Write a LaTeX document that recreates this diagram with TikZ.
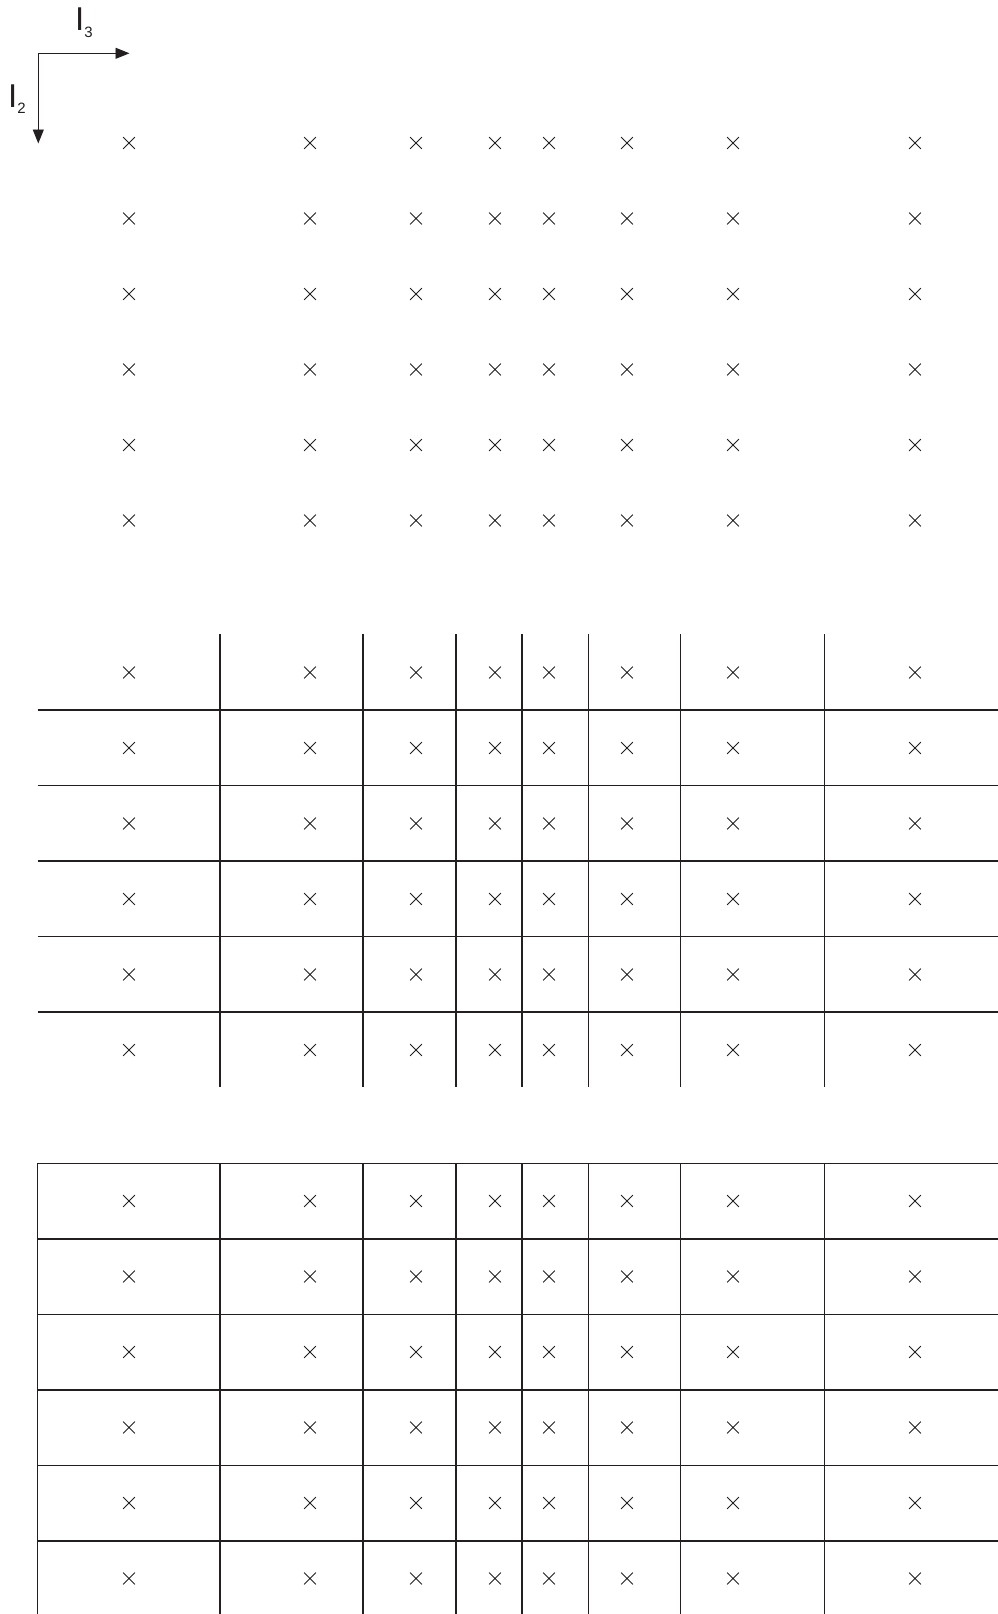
\documentclass[tikz,border=0pt]{standalone}
\usepackage{fontspec}
\setmainfont{Liberation Sans}
\usetikzlibrary{shapes.misc,arrows.meta}
\definecolor{ink}{HTML}{231F20}
\newcommand\colxs{129,310,416,495,549,627,733,915}
\newcommand\sepxs{220,363,456,522,588.5,680.5,824.5}

\begin{document}
\begin{tikzpicture}[
  x=1pt, y=-1pt,
  axis/.style={-{Triangle[length=14pt, width=11pt]}, line width=0.9pt, draw=ink},
  gridline/.style={line width=1.4pt, draw=ink},
  crossmark/.style={cross out, draw=ink, line width=0.8pt, minimum size=11pt, inner sep=0pt},
  axislabel/.style={font=\fontsize{33}{33}\selectfont, text=ink, inner sep=0pt, anchor=base west},
]
\useasboundingbox (0,0) rectangle (998,1614);
\clip (0,0) rectangle (998,1614);

% === AXES ===
\coordinate (origin) at (38.3,53.3);
\coordinate (ithree) at (129.5,53.3);
\coordinate (itwo) at (38.3,143.5);
\draw[axis] (origin) -- (ithree);
\draw[axis] (origin) -- (itwo);
\node[axislabel] (lblthree) at (75,30) {I\raisebox{-7pt}{\fontsize{15}{15}\selectfont 3}};
\node[axislabel] (lbltwo) at (8,107) {I\raisebox{-6pt}{\fontsize{15}{15}\selectfont 2}};

% === CROSSES (three blocks of 6 x 8) ===
\foreach \blk/\ytop in {top/143, mid/672.5, bot/1201} {
  \foreach \row in {0,...,5} {
    \foreach \x [count=\col] in \colxs {
      \node[crossmark] (\blk-\row-\col) at (\x, \ytop+75.5*\row) {};
    }
  }
}

% === MIDDLE BLOCK: open grid ===
\foreach \k in {0,...,4}
  \draw[gridline] (37.5, 710+75.5*\k) -- (1010, 710+75.5*\k);
\foreach \x in \sepxs
  \draw[gridline] (\x,634) -- (\x,1087);

% === BOTTOM BLOCK: closed grid ===
\draw[gridline] (37.5,1163.5) rectangle (1010,1620);
\foreach \k in {1,...,5}
  \draw[gridline] (37.5, 1163.5+75.5*\k) -- (1010, 1163.5+75.5*\k);
\foreach \x in \sepxs
  \draw[gridline] (\x,1163.5) -- (\x,1620);
\end{tikzpicture}
\end{document}
